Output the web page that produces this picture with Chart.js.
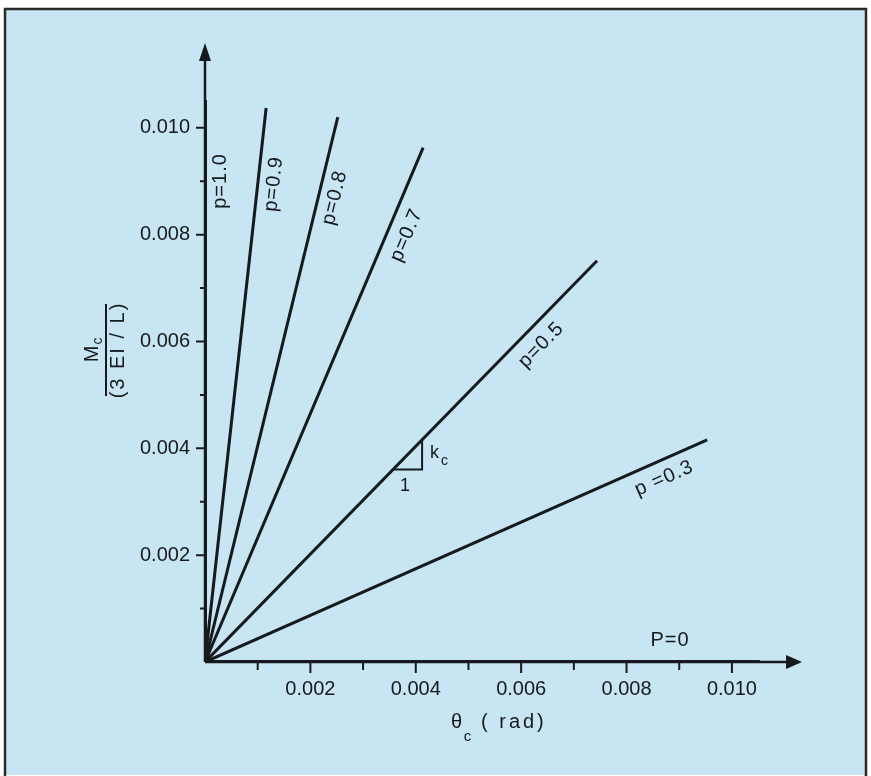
<!DOCTYPE html>
<html>
<head>
<meta charset="utf-8">
<script src="https://cdn.jsdelivr.net/npm/chart.js@4.4.1/dist/chart.umd.min.js"></script>
<style>
  html, body { margin: 0; padding: 0; background: #ffffff; }
  #wrap { width: 871px; height: 776px; }
</style>
</head>
<body>
<div id="wrap"><canvas id="stiffChart" width="871" height="776"></canvas></div>
<script>
// p values of each ray and where each ray ends (theta_c in rad, Mc / (3EI/L))
const pLabels = ["p=1.0", "p=0.9", "p=0.8", "p=0.7", "p=0.5", "p =0.3", "P=0"];
const thetaEnd = [0, 0.00116, 0.00252, 0.00414, 0.00744, 0.00953, 0.01053];
const momentEnd = [0.01052, 0.01037, 0.0102, 0.00963, 0.00751, 0.00416, 0];
const tickLabels = ["0.002", "0.004", "0.006", "0.008", "0.010"];

const ink = "#161a1c";
const paper = "#c7e5f3";

// where the p labels sit along each ray (fraction of length, px off the ray)
const labelPlace = [
  { t: 0.856, off: 15 },
  { t: 0.866, off: 16 },
  { t: 0.859, off: 16 },
  { t: 0.844, off: 19 },
  { t: 0.823, off: 19 },
  { t: 0.9, off: 18 },
  { t: 0.838, off: -22 },
];

Chart.defaults.font.family = "'Liberation Sans', Arial, sans-serif";
Chart.defaults.font.size = 20;
Chart.defaults.color = ink;

function tickText(value) {
  const n = Math.round(value * 1000);
  if (Math.abs(value * 1000 - n) > 1e-6 || n <= 0 || n > 10 || n % 2) return "";
  return tickLabels[n / 2 - 1];
}

const frame = {
  id: "frame",
  beforeDraw(chart) {
    const c = chart.ctx;
    c.save();
    c.fillStyle = "#ffffff";
    c.fillRect(0, 0, chart.width, chart.height);
    c.fillStyle = paper;
    c.fillRect(5, 9, 861, 766);
    c.strokeStyle = "#2a2a2a";
    c.lineWidth = 2.5;
    c.beginPath();
    c.moveTo(5, 776);
    c.lineTo(5, 9);
    c.lineTo(866, 9);
    c.lineTo(866, 776);
    c.stroke();
    c.restore();
  },
};

const axes = {
  id: "axes",
  beforeDatasetsDraw(chart) {
    const { ctx, scales: { x, y } } = chart;
    const x0 = x.getPixelForValue(0);
    const y0 = y.getPixelForValue(0);
    const xEnd = x.getPixelForValue(x.max);
    const yEnd = y.getPixelForValue(y.max) - 2;
    ctx.save();
    ctx.strokeStyle = ink;
    ctx.fillStyle = ink;
    ctx.lineWidth = 2.5;
    ctx.beginPath();
    ctx.moveTo(x0, y0);
    ctx.lineTo(xEnd - 10, y0);
    ctx.moveTo(x0, y0);
    ctx.lineTo(x0, yEnd + 10);
    ctx.stroke();

    ctx.beginPath();
    ctx.moveTo(xEnd, y0);
    ctx.lineTo(xEnd - 16, y0 - 7);
    ctx.lineTo(xEnd - 16, y0 + 7);
    ctx.closePath();
    ctx.fill();
    ctx.beginPath();
    ctx.moveTo(x0, yEnd);
    ctx.lineTo(x0 - 6, yEnd + 18);
    ctx.lineTo(x0 + 6, yEnd + 18);
    ctx.closePath();
    ctx.fill();

    ctx.lineWidth = 2;
    ctx.beginPath();
    x.ticks.forEach((t) => {
      const n = Math.round(t.value * 1000);
      if (n <= 0 || n > 10 || Math.abs(t.value * 1000 - n) > 1e-6) return;
      const px = x.getPixelForValue(t.value);
      ctx.moveTo(px, y0);
      ctx.lineTo(px, y0 + (n % 2 ? 8 : 11));
    });
    y.ticks.forEach((t) => {
      const n = Math.round(t.value * 1000);
      if (n <= 0 || n > 10 || Math.abs(t.value * 1000 - n) > 1e-6) return;
      const py = y.getPixelForValue(t.value);
      ctx.moveTo(x0, py);
      ctx.lineTo(x0 - (n % 2 ? 5 : 9), py);
    });
    ctx.stroke();
    ctx.restore();
  },
};

const notes = {
  id: "notes",
  afterDatasetsDraw(chart) {
    const { ctx, scales: { x, y } } = chart;
    ctx.save();
    ctx.fillStyle = ink;
    ctx.strokeStyle = ink;
    ctx.textAlign = "center";
    ctx.textBaseline = "middle";
    ctx.font = "20px 'Liberation Sans', Arial, sans-serif";
    ctx.letterSpacing = "1px";

    // p labels along the rays
    chart.data.datasets.forEach((ds, i) => {
      const pts = chart.getDatasetMeta(i).data;
      const dx = pts[1].x - pts[0].x;
      const dy = pts[1].y - pts[0].y;
      const len = Math.hypot(dx, dy);
      const ux = dx / len, uy = dy / len;
      const pl = labelPlace[i];
      const cx = pts[0].x + ux * len * pl.t - uy * pl.off;
      const cy = pts[0].y + uy * len * pl.t + ux * pl.off;
      ctx.save();
      ctx.translate(cx, cy);
      ctx.rotate(Math.atan2(uy, ux));
      ctx.fillText(pLabels[i], 0, 0);
      ctx.restore();
    });

    // slope triangle on the p=0.5 ray
    const slope = momentEnd[4] / thetaEnd[4];
    const a = 0.00357, b = 0.00412;
    const ax = x.getPixelForValue(a), ay = y.getPixelForValue(a * slope);
    const bx = x.getPixelForValue(b), by = y.getPixelForValue(b * slope);
    ctx.lineWidth = 2;
    ctx.beginPath();
    ctx.moveTo(ax, ay);
    ctx.lineTo(bx, ay);
    ctx.lineTo(bx, by);
    ctx.stroke();
    ctx.font = "18px 'Liberation Sans', Arial, sans-serif";
    ctx.fillText("1", (ax + bx) / 2 - 2, ay + 17);
    ctx.fillText("k", bx + 13, (ay + by) / 2 - 2);
    ctx.font = "14px 'Liberation Sans', Arial, sans-serif";
    ctx.fillText("c", bx + 23, (ay + by) / 2 + 6);

    // x axis title
    ctx.letterSpacing = "3px";
    ctx.textBaseline = "alphabetic";
    ctx.font = "20px 'Liberation Sans', Arial, sans-serif";
    ctx.fillText("θ", 458, 728);
    ctx.font = "15px 'Liberation Sans', Arial, sans-serif";
    ctx.fillText("c", 469, 741);
    ctx.font = "20px 'Liberation Sans', Arial, sans-serif";
    ctx.textAlign = "left";
    ctx.fillText("( rad)", 481, 728);

    // y axis title, a fraction read bottom to top
    ctx.translate(106, 350);
    ctx.rotate(-Math.PI / 2);
    ctx.textAlign = "center";
    ctx.textBaseline = "middle";
    ctx.letterSpacing = "2px";
    ctx.fillText("(3 EI / L)", 0, 12);
    ctx.letterSpacing = "0px";
    ctx.fillText("M", -4, -14);
    ctx.font = "14px 'Liberation Sans', Arial, sans-serif";
    ctx.fillText("c", 9, -8);
    ctx.lineWidth = 2;
    ctx.beginPath();
    ctx.moveTo(-46, 0);
    ctx.lineTo(46, 0);
    ctx.stroke();
    ctx.restore();
  },
};

const ctx = document.getElementById("stiffChart").getContext("2d");

new Chart(ctx, {
  type: "scatter",
  data: {
    datasets: pLabels.map((label, i) => ({
      label: label,
      data: [
        { x: 0, y: 0 },
        { x: thetaEnd[i], y: momentEnd[i] },
      ],
      showLine: true,
      borderColor: ink,
      borderWidth: i === 0 || i === 6 ? 4 : 3,
      pointRadius: 0,
      fill: false,
    })),
  },
  options: {
    responsive: false,
    animation: false,
    layout: { padding: { left: 0, top: 45, right: 69, bottom: 0 } },
    plugins: {
      legend: { display: false },
      tooltip: { enabled: false },
    },
    scales: {
      x: {
        type: "linear",
        min: 0,
        max: 0.01133,
        grid: { display: false, drawTicks: false },
        border: { display: false },
        ticks: {
          stepSize: 0.001,
          autoSkip: false,
          maxRotation: 0,
          padding: 15,
          color: ink,
          callback: tickText,
        },
        afterFit(scale) {
          scale.height = 114;
        },
      },
      y: {
        type: "linear",
        min: 0,
        max: 0.01155,
        grid: { display: false, drawTicks: false },
        border: { display: false },
        ticks: {
          stepSize: 0.001,
          autoSkip: false,
          padding: 15,
          color: ink,
          callback: tickText,
        },
        afterFit(scale) {
          scale.width = 205;
        },
      },
    },
  },
  plugins: [frame, axes, notes],
});
</script>
</body>
</html>
